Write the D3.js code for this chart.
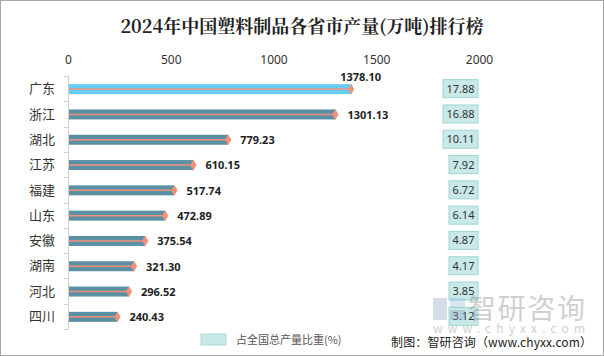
<!DOCTYPE html>
<html><head><meta charset="utf-8">
<script src="https://cdn.jsdelivr.net/npm/d3@7"></script>
<style>body{margin:0;background:#fff;}svg{display:block;font-family:"Noto Sans CJK SC","Noto Sans",sans-serif;}</style>
</head><body><svg id="c" width="604" height="356"></svg>
<script>
const provinces = ["广东","浙江","湖北","江苏","福建","山东","安徽","湖南","河北","四川"];
const output = [1378.10,1301.13,779.23,610.15,517.74,472.89,375.54,321.30,296.52,240.43];
const shares = [17.88,16.88,10.11,7.92,6.72,6.14,4.87,4.17,3.85,3.12];
const xTicks = [0,500,1000,1500,2000];
const title = "2024年中国塑料制品各省市产量(万吨)排行榜";
const legendLabel = "占全国总产量比重(%)";
const source = "制图：智研咨询（www.chyxx.com）";

const svg = d3.select("#c");
svg.append("rect").attr("x",0.5).attr("y",0.5).attr("width",603).attr("height",355)
  .attr("fill","#fff").attr("stroke","#a6a6a6");

svg.append("text").attr("x",302).attr("y",33).attr("text-anchor","middle")
  .attr("font-size",18).attr("font-weight","bold").attr("fill","#222")
  .attr("font-family","'Noto Serif CJK SC','Noto Sans CJK SC',serif").text(title);

const x = d3.scaleLinear().domain([0,2000]).range([68,479]);
const y = d3.scaleBand().domain(provinces).range([76,329]);

// top axis labels
const gx = svg.append("g").attr("transform","translate(0,60)")
  .call(d3.axisTop(x).tickValues(xTicks).tickFormat(d3.format("d")).tickSize(0).tickPadding(0));
gx.select(".domain").remove();
gx.selectAll("text").attr("font-size",12).attr("fill","#333").attr("dy","0.35em")
  .attr("font-family","'Noto Sans','Open Sans',sans-serif");

// left axis line and boundary ticks
svg.append("line").attr("x1",68.5).attr("x2",68.5).attr("y1",76).attr("y2",329).attr("stroke","#d0d0d0");
const bounds = provinces.map(p=>y(p)).concat([y.range()[1]]);
svg.selectAll(".bt").data(bounds).enter().append("line")
  .attr("x1",64).attr("x2",68.5).attr("y1",d=>Math.round(d)+0.5).attr("y2",d=>Math.round(d)+0.5)
  .attr("stroke","#d0d0d0");

// category labels
svg.selectAll(".cat").data(provinces).enter().append("text")
  .attr("x",55).attr("y",d=>y(d)+y.bandwidth()/2).attr("dy","0.36em")
  .attr("text-anchor","end").attr("font-size",13).attr("fill","#333").text(d=>d);

const bh = 10;
const rows = provinces.map((p,i)=>({p, v:output[i], s:shares[i], i}));
svg.selectAll(".bar").data(rows).enter().append("rect")
  .attr("x",x(0)+1).attr("y",d=>y(d.p)+y.bandwidth()/2-bh/2+0.5)
  .attr("width",d=>x(d.v)-x(0)-1).attr("height",bh)
  .attr("fill",d=>d.i===0?"#66cdf2":"#5b8fa3");
svg.selectAll(".ln").data(rows).enter().append("line")
  .attr("x1",x(0)+1).attr("x2",d=>x(d.v))
  .attr("y1",d=>y(d.p)+y.bandwidth()/2+0.5).attr("y2",d=>y(d.p)+y.bandwidth()/2+0.5)
  .attr("stroke","#f2917a").attr("stroke-width",1.5);
svg.selectAll(".dm").data(rows).enter().append("path")
  .attr("d",d3.symbol(d3.symbolDiamond,34)())
  .attr("transform",d=>`translate(${x(d.v)},${y(d.p)+y.bandwidth()/2+0.5})`)
  .attr("fill","#f2917a");

svg.selectAll(".val").data(rows).enter().append("text")
  .attr("x",d=>d.i===0?x(d.v)-11:x(d.v)+12)
  .attr("y",d=>d.i===0?y(d.p)+1:y(d.p)+y.bandwidth()/2+1)
  .attr("dy","0.35em").attr("font-size",11).attr("font-weight","bold").attr("fill","#222")
  .attr("font-family","'Noto Sans','Open Sans',sans-serif")
  .text(d=>d.v.toFixed(2));

// share boxes
const bx = svg.selectAll(".box").data(rows).enter().append("g")
  .attr("transform",d=>`translate(478,${y(d.p)+y.bandwidth()/2})`);
bx.append("rect").attr("x",d=>d.s>=10?-35:-29).attr("y",-9)
  .attr("width",d=>d.s>=10?35:29).attr("height",18)
  .attr("fill","#c9e8e8").attr("stroke","#9fd7d0").attr("stroke-width",1);
bx.append("text").attr("x",d=>d.s>=10?-17.5:-14.5).attr("y",0).attr("dy","0.36em")
  .attr("text-anchor","middle").attr("font-size",11).attr("fill","#333")
  .attr("font-family","'Noto Sans','Open Sans',sans-serif")
  .text(d=>d.s.toFixed(2));

// legend
svg.append("rect").attr("x",201).attr("y",334).attr("width",25).attr("height",11)
  .attr("fill","#c9e8e8").attr("stroke","#a9dcd6");
svg.append("text").attr("x",236).attr("y",340).attr("dy","0.35em")
  .attr("font-size",11).attr("fill","#555").text(legendLabel);

// watermark
const wm = svg.append("g").attr("opacity",0.35);
wm.append("rect").attr("x",433).attr("y",298).attr("width",14).attr("height",22).attr("fill","#8aa0c0");
wm.append("rect").attr("x",450).attr("y",298).attr("width",15).attr("height",10).attr("fill","#8ab8e0");
wm.append("rect").attr("x",450).attr("y",310).attr("width",15).attr("height",10).attr("fill","#8aa0c0");
wm.append("text").attr("x",468).attr("y",309).attr("dy","0.36em").attr("font-size",28)
  .attr("fill","#777").attr("textLength",117).text("智研咨询");
wm.append("text").attr("x",433).attr("y",329).attr("dy","0.36em").attr("font-size",12)
  .attr("fill","#777").attr("textLength",152).attr("lengthAdjust","spacing").text("www.chyxx.com");

svg.append("text").attr("x",391).attr("y",343).attr("dy","0.36em")
  .attr("font-size",12).attr("fill","#222").attr("textLength",201).text(source);
</script></body></html>
